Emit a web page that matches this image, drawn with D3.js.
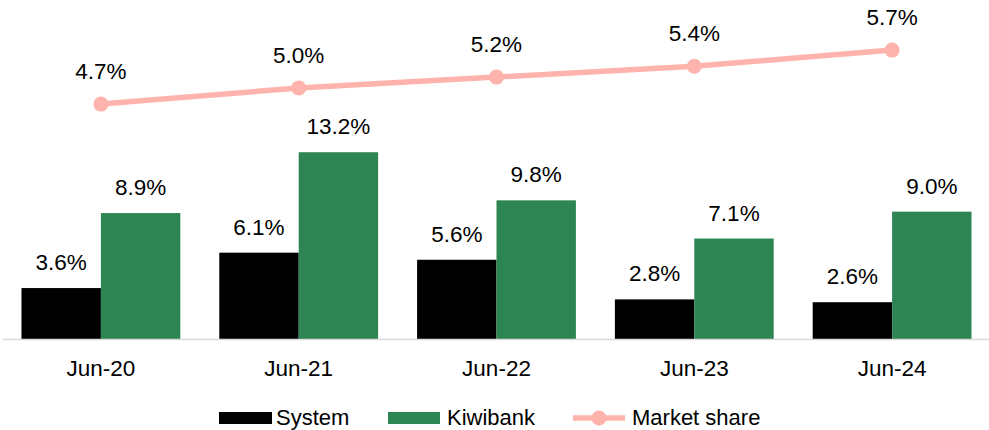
<!DOCTYPE html>
<html>
<head>
<meta charset="utf-8">
<script src="https://cdn.jsdelivr.net/npm/d3@7"></script>
<style>
  body { margin: 0; background: #fff; }
  text { font-family: "Liberation Sans", Arial, sans-serif; fill: #000; }
</style>
</head>
<body>
<div id="chart"></div>
<script>
// Data
var categories = ["Jun-20", "Jun-21", "Jun-22", "Jun-23", "Jun-24"];
var systemGrowth = [3.6, 6.1, 5.6, 2.8, 2.6];
var kiwibankGrowth = [8.9, 13.2, 9.8, 7.1, 9.0];
var marketShare = [4.7, 5.0, 5.2, 5.4, 5.7];
var seriesNames = ["System", "Kiwibank", "Market share"];

// Size
var w = 989;
var h = 430;
var baseline = 339;
var colors = { system: "#000000", kiwibank: "#2E8554", share: "#FFB3AD" };

var svg = d3.select("#chart")
    .append("svg")
    .attr("width", w)
    .attr("height", h);

// Scales
var xScale = d3.scaleBand()
    .domain(categories)
    .range([2, 991])
    .paddingInner(0.197)
    .paddingOuter(0.0985);

var subScale = d3.scaleBand()
    .domain(["system", "kiwibank"])
    .range([0, xScale.bandwidth()]);

var yScale = d3.scaleLinear()
    .domain([0, 16])
    .range([baseline, baseline - 16 * 14.15]);

var yLine = d3.scaleLinear()
    .domain([0.35, 6.3])
    .range([baseline, baseline - 5.95 * 54]);

var rows = categories.map(function (c, i) {
    return { cat: c, system: systemGrowth[i], kiwibank: kiwibankGrowth[i], share: marketShare[i] };
});

// Bars
["system", "kiwibank"].forEach(function (key) {
    svg.selectAll("rect." + key)
        .data(rows)
        .enter()
        .append("rect")
        .attr("class", key)
        .attr("x", function (d) { return xScale(d.cat) + subScale(key); })
        .attr("y", function (d) { return yScale(d[key]); })
        .attr("width", subScale.bandwidth())
        .attr("height", function (d) { return baseline - yScale(d[key]); })
        .attr("fill", colors[key]);

    svg.selectAll("text." + key)
        .data(rows)
        .enter()
        .append("text")
        .attr("class", key)
        .attr("x", function (d) { return xScale(d.cat) + subScale(key) + subScale.bandwidth() / 2; })
        .attr("y", function (d) { return yScale(d[key]) - 18; })
        .attr("text-anchor", "middle")
        .attr("font-size", "22.5px")
        .text(function (d) { return d[key].toFixed(1) + "%"; });
});

// X axis
var xAxis = d3.axisBottom(xScale).tickSize(0).tickPadding(21);
var gx = svg.append("g")
    .attr("transform", "translate(0," + baseline + ")")
    .call(xAxis);
gx.select(".domain").remove();
gx.selectAll("text").attr("font-size", "22.5px").attr("font-family", "Liberation Sans, Arial, sans-serif");
svg.append("line")
    .attr("x1", 3).attr("x2", w)
    .attr("y1", baseline + 0.5).attr("y2", baseline + 0.5)
    .attr("stroke", "#d9d9d9")
    .attr("stroke-width", 1.5);

// Line series
var line = d3.line()
    .x(function (d) { return xScale(d.cat) + xScale.bandwidth() / 2; })
    .y(function (d) { return yLine(d.share); });

svg.append("path")
    .datum(rows)
    .attr("d", line)
    .attr("fill", "none")
    .attr("stroke", colors.share)
    .attr("stroke-width", 5.5);

svg.selectAll("circle.share")
    .data(rows)
    .enter()
    .append("circle")
    .attr("class", "share")
    .attr("cx", function (d) { return xScale(d.cat) + xScale.bandwidth() / 2; })
    .attr("cy", function (d) { return yLine(d.share); })
    .attr("r", 7.5)
    .attr("fill", colors.share);

svg.selectAll("text.share")
    .data(rows)
    .enter()
    .append("text")
    .attr("class", "share")
    .attr("x", function (d) { return xScale(d.cat) + xScale.bandwidth() / 2; })
    .attr("y", function (d) { return yLine(d.share) - 25; })
    .attr("text-anchor", "middle")
    .attr("font-size", "22.5px")
    .text(function (d) { return d.share.toFixed(1) + "%"; });

// Legend
var swatchX = [219, 388, 573];
var labelX = [276, 447, 632];
var legendY = 425;

svg.append("rect")
    .attr("x", swatchX[0]).attr("y", legendY - 13).attr("width", 53).attr("height", 12)
    .attr("fill", colors.system);
svg.append("rect")
    .attr("x", swatchX[1]).attr("y", legendY - 13).attr("width", 52).attr("height", 12)
    .attr("fill", colors.kiwibank);
svg.append("line")
    .attr("x1", swatchX[2]).attr("x2", swatchX[2] + 52)
    .attr("y1", legendY - 7).attr("y2", legendY - 7)
    .attr("stroke", colors.share).attr("stroke-width", 5.5);
svg.append("circle")
    .attr("cx", swatchX[2] + 26).attr("cy", legendY - 7).attr("r", 7.5)
    .attr("fill", colors.share);

svg.selectAll("text.legend")
    .data(seriesNames)
    .enter()
    .append("text")
    .attr("class", "legend")
    .attr("x", function (d, i) { return labelX[i]; })
    .attr("y", legendY)
    .attr("font-size", "22px")
    .text(function (d) { return d; });
</script>
</body>
</html>
